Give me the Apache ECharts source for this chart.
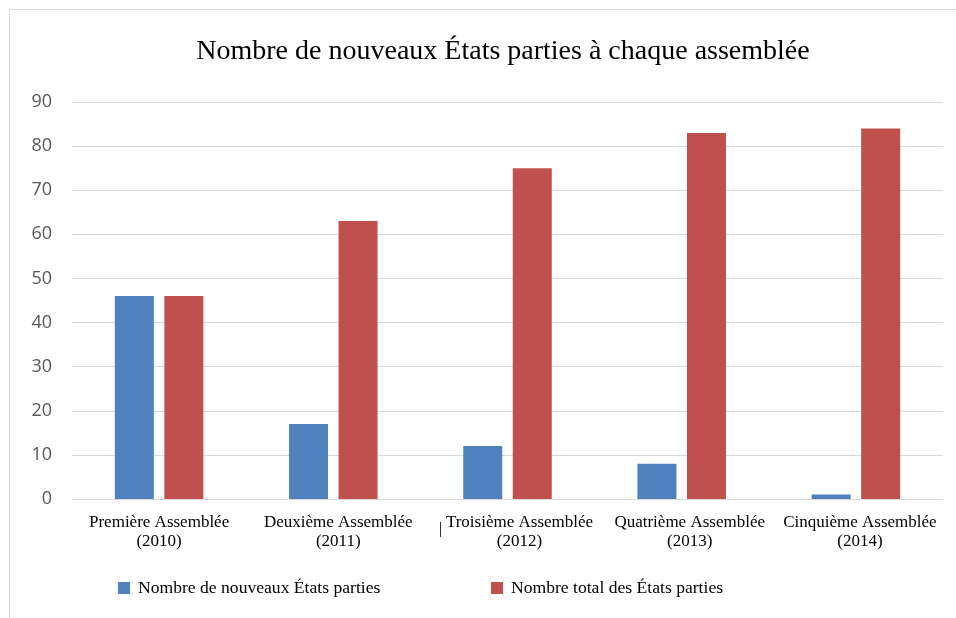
<!DOCTYPE html>
<html><head><meta charset="utf-8">
<script src="https://cdn.jsdelivr.net/npm/echarts@6/dist/echarts.min.js"></script>
<style>html,body{margin:0;padding:0;background:#fff}#c{width:956px;height:618px}</style>
</head><body><div id="c"></div>
<script>
const titleText = 'Nombre de nouveaux États parties à chaque assemblée';
const categories = ['Première Assemblée\n(2010)', 'Deuxième Assemblée\n(2011)', 'Troisième Assemblée\n(2012)', 'Quatrième Assemblée\n(2013)', 'Cinquième Assemblée\n(2014)'];
const seriesNames = ['Nombre de nouveaux États parties', 'Nombre total des États parties'];
const newStates = [46, 17, 12, 8, 1];
const totalStates = [46, 63, 75, 83, 84];
const yTicks = {min: 0, max: 90, interval: 10};

// small horizontal shifts of the category labels as seen in the reference (px)
const labelShift = [0, 5, 12, 8, 4];
const baseLabel = {fontFamily: 'Liberation Serif', fontSize: 17, color: '#000', lineHeight: 19};
const rich = {};
labelShift.forEach((s, i) => { rich['o' + i] = Object.assign({padding: [0, 0, 0, 2 * s]}, baseLabel); });

const legendText = {fontFamily: 'Liberation Serif', fontSize: 17.6, color: '#000', padding: [0, 0, 0, 3]};
const chart = echarts.init(document.getElementById('c'));
chart.setOption({
  animation: false,
  backgroundColor: '#fff',
  title: {
    text: titleText, left: 498, top: 33, textAlign: 'center',
    textStyle: {fontFamily: 'Liberation Serif', fontSize: 28, fontWeight: 'normal', color: '#000'}
  },
  graphic: [
    {type: 'rect', shape: {x: 9.5, y: 9.5, width: 1000, height: 700}, style: {fill: 'none', stroke: '#d9d9d9', lineWidth: 1}, silent: true},
    {type: 'line', shape: {x1: 440.5, y1: 522, x2: 440.5, y2: 537}, style: {stroke: '#333', lineWidth: 1}, silent: true}
  ],
  legend: [
    {data: [seriesNames[0]], left: 118, top: 579, padding: 0, itemWidth: 12, itemHeight: 12, icon: 'rect', textStyle: legendText},
    {data: [seriesNames[1]], left: 491, top: 579, padding: 0, itemWidth: 12, itemHeight: 12, icon: 'rect', textStyle: legendText}
  ],
  grid: {left: 72, right: 13, top: 102, bottom: 119},
  xAxis: {
    type: 'category', data: categories,
    axisLine: {lineStyle: {color: '#d9d9d9'}},
    axisTick: {show: false},
    axisLabel: Object.assign({
      margin: 14, interval: 0, rich: rich,
      formatter: (v, i) => v.split('\n').map(l => '{o' + i + '|' + l + '}').join('\n')
    }, baseLabel)
  },
  yAxis: {
    type: 'value', min: yTicks.min, max: yTicks.max, interval: yTicks.interval,
    axisLine: {show: false}, axisTick: {show: false},
    axisLabel: {fontFamily: 'Open Sans', fontSize: 18, color: '#595959', margin: 20},
    splitLine: {lineStyle: {color: '#d9d9d9', width: 1}}
  },
  series: [
    {name: seriesNames[0], type: 'bar', data: newStates, barWidth: 39, barGap: '27%', itemStyle: {color: '#4f81bd'}},
    {name: seriesNames[1], type: 'bar', data: totalStates, barWidth: 39, barGap: '27%', itemStyle: {color: '#c0504d'}}
  ]
});
</script>
</body></html>
